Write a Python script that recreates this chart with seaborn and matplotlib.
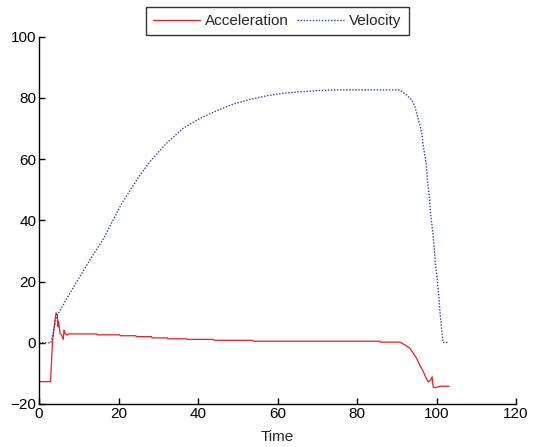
import matplotlib
matplotlib.use("Agg")
import matplotlib.pyplot as plt
import pandas as pd
import seaborn as sns

# acceleration trace
acc_time = [0.0, 0.05, 2.9, 3.2, 3.4, 4.0, 4.3, 4.6, 4.8, 4.9, 5.3, 5.7, 6.1, 6.3,
            6.5, 7.1, 7.4, 14.5, 14.6, 20.3, 20.4, 24.4, 24.5, 28.3, 28.4, 32.3,
            32.4, 37.2, 37.3, 43.9, 44.0, 53.8, 53.9, 85.8, 85.9, 90.8, 92.1,
            93.3, 94.2, 95.0, 95.8, 96.7, 97.4, 97.9, 98.5, 98.9, 99.0, 99.2,
            100.0, 100.9, 103.2]
acc_value = [0.0, -12.7, -12.7, -4.6, 0.3, 7.4, 9.8, 9.0, 5.2, 6.9, 3.1, 2.5, 1.1,
             4.1, 3.1, 2.5, 2.9, 2.9, 2.6, 2.6, 2.3, 2.3, 2.0, 2.0, 1.6, 1.6,
             1.3, 1.3, 1.1, 1.1, 0.8, 0.8, 0.5, 0.5, 0.2, 0.2, -0.75, -1.8,
             -3.5, -5.1, -7.3, -9.5, -11.6, -12.7, -12.2, -11.1, -12.7, -14.6,
             -14.6, -14.2, -14.2]

# velocity trace
vel_time = [0.0, 3.0, 4.45, 7.0, 10.3, 13.0, 16.2, 20.8, 25.4, 27.9, 32.1, 36.3,
            40.5, 44.7, 48.9, 53.1, 57.3, 61.5, 65.7, 69.9, 74.0, 90.8, 92.5,
            93.8, 94.6, 95.0, 95.7, 96.3, 96.7, 97.4, 97.7, 98.2, 98.5, 99.0,
            99.4, 99.7, 100.2, 100.6, 100.9, 101.4, 101.6, 103.0]
vel_value = [0.0, 0.0, 8.6, 14.5, 21.7, 27.5, 34.0, 45.5, 54.8, 59.2, 65.2, 70.1,
             73.3, 75.8, 78.0, 79.5, 80.7, 81.5, 82.0, 82.35, 82.6, 82.6, 80.9,
             79.3, 77.1, 75.0, 71.7, 68.4, 64.1, 58.6, 53.2, 47.7, 42.3, 36.8,
             31.4, 25.9, 20.5, 15.0, 9.6, 3.1, 0.1, 0.1]

x_ticks = [0, 20, 40, 60, 80, 100, 120]
y_ticks = [-20, 0, 20, 40, 60, 80, 100]

acc = pd.DataFrame({"Time": acc_time, "value": acc_value})
vel = pd.DataFrame({"Time": vel_time, "value": vel_value})

sns.set_style("ticks")
plt.rcParams["font.family"] = ["Liberation Sans", "DejaVu Sans"]
plt.rcParams["font.size"] = 11
plt.rcParams["xtick.direction"] = "in"
plt.rcParams["ytick.direction"] = "in"

fig = plt.figure(figsize=(5.36, 4.47), dpi=100)
ax = fig.add_axes([0.0728, 0.0962, 0.8899, 0.8218])

sns.lineplot(data=acc, x="Time", y="value", ax=ax, color="#ee1c24",
             lw=0.9, label="Acceleration", estimator=None, sort=False)
sns.lineplot(data=vel, x="Time", y="value", ax=ax, color="#2a44a8",
             lw=1.0, ls=(0, (1, 1.2)), label="Velocity", estimator=None, sort=False)

ax.set_xlim(0, 120)
ax.set_ylim(-20, 100)
ax.set_xticks(x_ticks)
ax.set_yticks(y_ticks)
ax.set_xlabel("Time", labelpad=7)
ax.set_ylabel("")
ax.tick_params(length=4, width=1, colors="black", labelsize=11, pad=2)
ax.spines["right"].set_visible(False)
ax.spines["top"].set_visible(False)
for s in ("left", "bottom"):
    ax.spines[s].set_color("black")
    ax.spines[s].set_linewidth(1)

leg = ax.legend(loc="lower center", bbox_to_anchor=(0.5, 1.004), ncol=2,
                frameon=True, fancybox=False, borderpad=0.45, borderaxespad=0,
                handlelength=3.05, columnspacing=0.55, handletextpad=0.35,
                fontsize=11)
leg.get_frame().set_edgecolor("black")
leg.get_frame().set_linewidth(1)

fig.savefig("out.png", dpi=100)
